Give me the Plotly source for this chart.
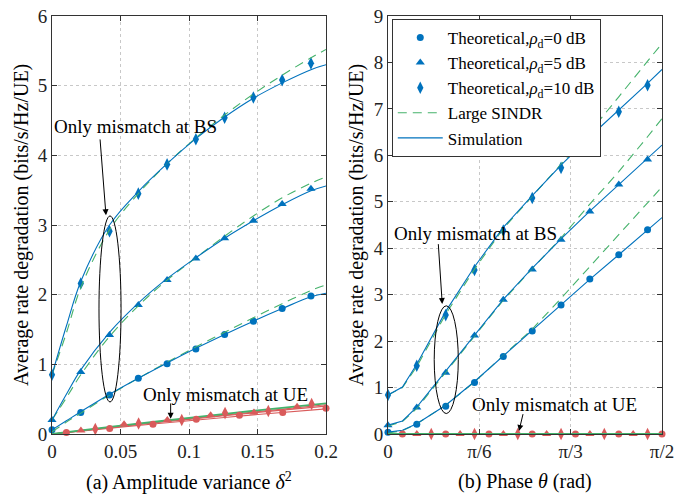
import plotly.graph_objects as go

# ---------------- Panel (a): amplitude variance ----------------
a_x_theo = [0, 0.021, 0.042, 0.063, 0.084, 0.105, 0.126, 0.147, 0.168, 0.189]
a_theo_0 = [0.06, 0.31, 0.56, 0.80, 1.01, 1.22, 1.43, 1.62, 1.80, 1.98]
a_theo_5 = [0.20, 0.89, 1.42, 1.85, 2.21, 2.52, 2.81, 3.06, 3.30, 3.52]
a_theo_10 = [0.85, 2.16, 2.91, 3.45, 3.87, 4.23, 4.54, 4.83, 5.08, 5.32]

a_x_sim = [0, 0.0105, 0.021, 0.042, 0.063, 0.084, 0.105, 0.126, 0.147, 0.168, 0.189, 0.2]
a_sim_0 = [0.06, 0.19, 0.32, 0.57, 0.80, 1.02, 1.23, 1.43, 1.62, 1.80, 1.97, 2.02]
a_sim_5 = [0.20, 0.57, 0.92, 1.46, 1.88, 2.23, 2.53, 2.81, 3.06, 3.29, 3.49, 3.56]
a_sim_10 = [0.85, 1.55, 2.19, 3.00, 3.48, 3.88, 4.24, 4.55, 4.82, 5.04, 5.23, 5.30]
a_large_0 = [0.03, 0.17, 0.30, 0.56, 0.80, 1.03, 1.25, 1.46, 1.67, 1.87, 2.06, 2.14]
a_large_5 = [0.20, 0.52, 0.85, 1.40, 1.84, 2.21, 2.53, 2.84, 3.13, 3.39, 3.60, 3.69]
a_large_10 = [0.85, 1.45, 2.10, 2.93, 3.45, 3.88, 4.25, 4.58, 4.88, 5.15, 5.40, 5.52]

# mismatch only at UE (panel a)
a_ue_x0 = [0.0105, 0.0421, 0.0737, 0.1053, 0.1368, 0.1684, 0.2]
a_ue_v0 = [0.02, 0.08, 0.14, 0.21, 0.27, 0.31, 0.37]
a_ue_x5 = [0.0211, 0.0526, 0.0842, 0.1158, 0.1474, 0.1789]
a_ue_v5 = [0.05, 0.14, 0.20, 0.27, 0.31, 0.39]
a_ue_x10 = [0.0316, 0.0632, 0.0947, 0.1263, 0.1579, 0.1895]
a_ue_v10 = [0.07, 0.15, 0.20, 0.30, 0.33, 0.43]
a_ue_line_x = [0, 0.05, 0.1, 0.15, 0.2]
a_ue_sim_0 = [0, 0.10, 0.19, 0.28, 0.36]
a_ue_sim_5 = [0, 0.11, 0.21, 0.31, 0.40]
a_ue_sim_10 = [0, 0.115, 0.22, 0.32, 0.42]
a_ue_large = [0, 0.12, 0.23, 0.34, 0.44]

# ---------------- Panel (b): phase ----------------
b_x_theo = [0, 0.165, 0.331, 0.496, 0.661, 0.827, 0.992, 1.157, 1.323, 1.488]
b_theo_0 = [0.04, 0.21, 0.60, 1.11, 1.67, 2.22, 2.78, 3.34, 3.86, 4.40]
b_theo_5 = [0.19, 0.57, 1.32, 2.12, 2.89, 3.54, 4.18, 4.79, 5.37, 5.91]
b_theo_10 = [0.84, 1.47, 2.56, 3.53, 4.38, 5.08, 5.73, 6.35, 6.94, 7.51]

b_x_sim = [0, 0.083, 0.165, 0.331, 0.496, 0.661, 0.827, 0.992, 1.157, 1.323, 1.488, 1.5708]
b_sim_0 = [0.04, 0.08, 0.22, 0.62, 1.13, 1.68, 2.23, 2.79, 3.33, 3.86, 4.40, 4.66]
b_sim_5 = [0.19, 0.28, 0.58, 1.36, 2.15, 2.90, 3.57, 4.20, 4.80, 5.37, 5.92, 6.22]
b_sim_10 = [0.84, 1.01, 1.50, 2.64, 3.60, 4.45, 5.13, 5.79, 6.40, 6.97, 7.55, 7.85]
b_large_0 = [0.02, 0.07, 0.22, 0.62, 1.12, 1.68, 2.26, 2.92, 3.60, 4.28, 4.97, 5.32]
b_large_5 = [0.17, 0.27, 0.55, 1.33, 2.12, 2.88, 3.56, 4.22, 4.95, 5.65, 6.40, 6.79]
b_large_10 = [0.84, 1.00, 1.45, 2.58, 3.55, 4.42, 5.12, 5.80, 6.50, 7.26, 8.03, 8.41]

b_ue_x0 = [0.0827, 0.3307, 0.5788, 0.8268, 1.0748, 1.3229, 1.5708]
b_ue_v0 = [0, 0, 0, 0, 0, 0, 0]
b_ue_x5 = [0.1653, 0.4134, 0.6614, 0.9095, 1.1575, 1.4056]
b_ue_v5 = [0, 0, 0, 0, 0, 0]
b_ue_x10 = [0.2480, 0.4961, 0.7441, 0.9921, 1.2402, 1.4882]
b_ue_v10 = [0, 0, 0, 0, 0, 0]
b_ue_line_x = [0, 1.5708]
b_ue_line_v = [0, 0]

b_tickvals = [0, 0.5236, 1.0472, 1.5708]
b_ticktext = ["0", "π/6", "π/3", "π/2"]

legend_names = ["Theoretical,<i>ρ</i><sub>d</sub>=0 dB",
                "Theoretical,<i>ρ</i><sub>d</sub>=5 dB",
                "Theoretical,<i>ρ</i><sub>d</sub>=10 dB",
                "Large SINDR", "Simulation"]

BLUE = "#0072BD"
GREEN = "#45B26B"
RED = "#D95B5B"
FONT = "Times New Roman, Liberation Serif, DejaVu Serif, serif"

symbols = ["circle", "triangle-up", "diamond-tall"]
msizes = [7, 8, 9]

fig = go.Figure()

def markers(x, y, sym, size, color, xa, ya, name=None, show=False):
    fig.add_trace(go.Scatter(x=x, y=y, mode="markers", xaxis=xa, yaxis=ya,
                             marker=dict(symbol=sym, size=size, color=color, line=dict(width=0)),
                             name=name, showlegend=show, cliponaxis=False))

def line(x, y, color, dash, xa, ya, width=1.1, name=None, show=False, shape="spline"):
    fig.add_trace(go.Scatter(x=x, y=y, mode="lines", xaxis=xa, yaxis=ya,
                             line=dict(color=color, width=width, dash=dash, shape=shape),
                             name=name, showlegend=show))

# Panel (a) BS mismatch
for i, vals in enumerate([a_theo_0, a_theo_5, a_theo_10]):
    markers(a_x_theo, vals, symbols[i], msizes[i], BLUE, "x", "y", legend_names[i], True)
# Panel (a) UE mismatch lines and markers
for vals in [a_ue_sim_0, a_ue_sim_5, a_ue_sim_10]:
    line(a_ue_line_x, vals, RED, "solid", "x", "y", width=1.2)
line(a_ue_line_x, a_ue_large, GREEN, "solid", "x", "y", width=1.8)
for i, (xx, vv) in enumerate([(a_ue_x0, a_ue_v0), (a_ue_x5, a_ue_v5), (a_ue_x10, a_ue_v10)]):
    markers(xx, vv, symbols[i], msizes[i], RED, "x", "y")
for j, vals in enumerate([a_large_0, a_large_5, a_large_10]):
    line(a_x_sim, vals, GREEN, "9px,6px", "x", "y", name=legend_names[3], show=(j == 0))
for j, vals in enumerate([a_sim_0, a_sim_5, a_sim_10]):
    line(a_x_sim, vals, BLUE, "solid", "x", "y", name=legend_names[4], show=(j == 0))

# Panel (b)
for i, vals in enumerate([b_theo_0, b_theo_5, b_theo_10]):
    markers(b_x_theo, vals, symbols[i], msizes[i], BLUE, "x2", "y2")
for vals in [b_large_0, b_large_5, b_large_10]:
    line(b_x_sim, vals, GREEN, "9px,6px", "x2", "y2", shape="linear")
for vals in [b_sim_0, b_sim_5, b_sim_10]:
    line(b_x_sim, vals, BLUE, "solid", "x2", "y2", shape="linear")
line(b_ue_line_x, b_ue_line_v, RED, "solid", "x2", "y2", width=1.3, shape="linear")
for i, (xx, vv) in enumerate([(b_ue_x0, b_ue_v0), (b_ue_x5, b_ue_v5), (b_ue_x10, b_ue_v10)]):
    markers(xx, vv, symbols[i], msizes[i], RED, "x2", "y2")
line(b_ue_line_x, b_ue_line_v, GREEN, "solid", "x2", "y2", width=2, shape="linear")

axis_common = dict(showline=True, linecolor="#333333", linewidth=1, mirror="ticks",
                   ticks="inside", ticklen=5, tickcolor="#333333",
                   showgrid=True, gridcolor="#c8c8c8", griddash="dot", gridwidth=1,
                   zeroline=False, tickfont=dict(family=FONT, size=19, color="#222222"))

fig.update_layout(
    width=689, height=494,
    margin=dict(l=52, r=27, t=16, b=60, autoexpand=False),
    paper_bgcolor="white", plot_bgcolor="white",
    font=dict(family=FONT, size=17, color="black"),
    xaxis=dict(domain=[0, 0.4492], range=[0, 0.2], tickvals=[0, 0.05, 0.1, 0.15, 0.2],
               ticktext=["0", "0.05", "0.1", "0.15", "0.2"], anchor="y", **axis_common),
    yaxis=dict(domain=[0, 1], range=[0, 6], tickvals=[0, 1, 2, 3, 4, 5, 6], anchor="x", **axis_common),
    xaxis2=dict(domain=[0.5508, 1], range=[0, 1.5708], tickvals=b_tickvals, ticktext=b_ticktext,
                anchor="y2", **axis_common),
    yaxis2=dict(domain=[0, 1], range=[0, 9], tickvals=list(range(10)), anchor="x2", **axis_common),
    legend=dict(x=0.557, y=0.993, xanchor="left", yanchor="top", bgcolor="white",
                bordercolor="#333333", borderwidth=1, itemwidth=45,
                font=dict(family=FONT, size=17, color="black"), tracegroupgap=0),
    showlegend=True,
)

ytitle = "Average rate degradation (bits/s/Hz/UE)"
ann = [
    dict(text=ytitle, x=-0.0508, y=0.5, xref="paper", yref="paper", textangle=-90,
         showarrow=False, font=dict(family=FONT, size=20), xanchor="center", yanchor="middle"),
    dict(text=ytitle, x=0.4984, y=0.5, xref="paper", yref="paper", textangle=-90,
         showarrow=False, font=dict(family=FONT, size=20), xanchor="center", yanchor="middle"),
    dict(text="(a) Amplitude variance <i>δ</i><sup>2</sup>", x=0.2246, y=-0.114, xref="paper", yref="paper",
         showarrow=False, font=dict(family=FONT, size=20), xanchor="center", yanchor="middle"),
    dict(text="(b) Phase <i>θ</i> (rad)", x=0.7754, y=-0.114, xref="paper", yref="paper",
         showarrow=False, font=dict(family=FONT, size=20), xanchor="center", yanchor="middle"),
    dict(text="Only mismatch at BS", x=0.0606, y=4.42, xref="x", yref="y", showarrow=False,
         font=dict(family=FONT, size=19), xanchor="center", yanchor="middle"),
    dict(text="Only mismatch at UE", x=0.1268, y=0.574, xref="x", yref="y", showarrow=False,
         font=dict(family=FONT, size=19), xanchor="center", yanchor="middle"),
    dict(text="Only mismatch at BS", x=0.5045, y=4.32, xref="x2", yref="y2", showarrow=False,
         font=dict(family=FONT, size=19), xanchor="center", yanchor="middle"),
    dict(text="Only mismatch at UE", x=0.957, y=0.626, xref="x2", yref="y2", showarrow=False,
         font=dict(family=FONT, size=19), xanchor="center", yanchor="middle"),
]
arrows = [
    ("x", "y", 0.0394, 3.14, 0.035, 4.25),
    ("x", "y", 0.0866, 0.22, 0.0866, 0.46),
    ("x2", "y2", 0.311, 2.80, 0.288, 4.12),
    ("x2", "y2", 0.751, 0.065, 0.776, 0.46),
]
for xr, yr, hx, hy, tx, ty in arrows:
    ann.append(dict(text="", x=hx, y=hy, ax=tx, ay=ty, xref=xr, yref=yr, axref=xr, ayref=yr,
                    showarrow=True, arrowhead=2, arrowsize=1.2, arrowwidth=1, arrowcolor="black"))
fig.update_layout(annotations=ann)

fig.add_shape(type="circle", xref="x", yref="y", x0=0.0343, x1=0.0504, y0=0.46, y1=3.13,
              line=dict(color="black", width=1))
fig.add_shape(type="circle", xref="x2", yref="y2", x0=0.265, x1=0.403, y0=0.44, y1=2.76,
              line=dict(color="black", width=1))

fig.write_html("out.html", config={"displayModeBar": False},
               post_script="document.body.style.margin='0';document.body.style.padding='0';")
